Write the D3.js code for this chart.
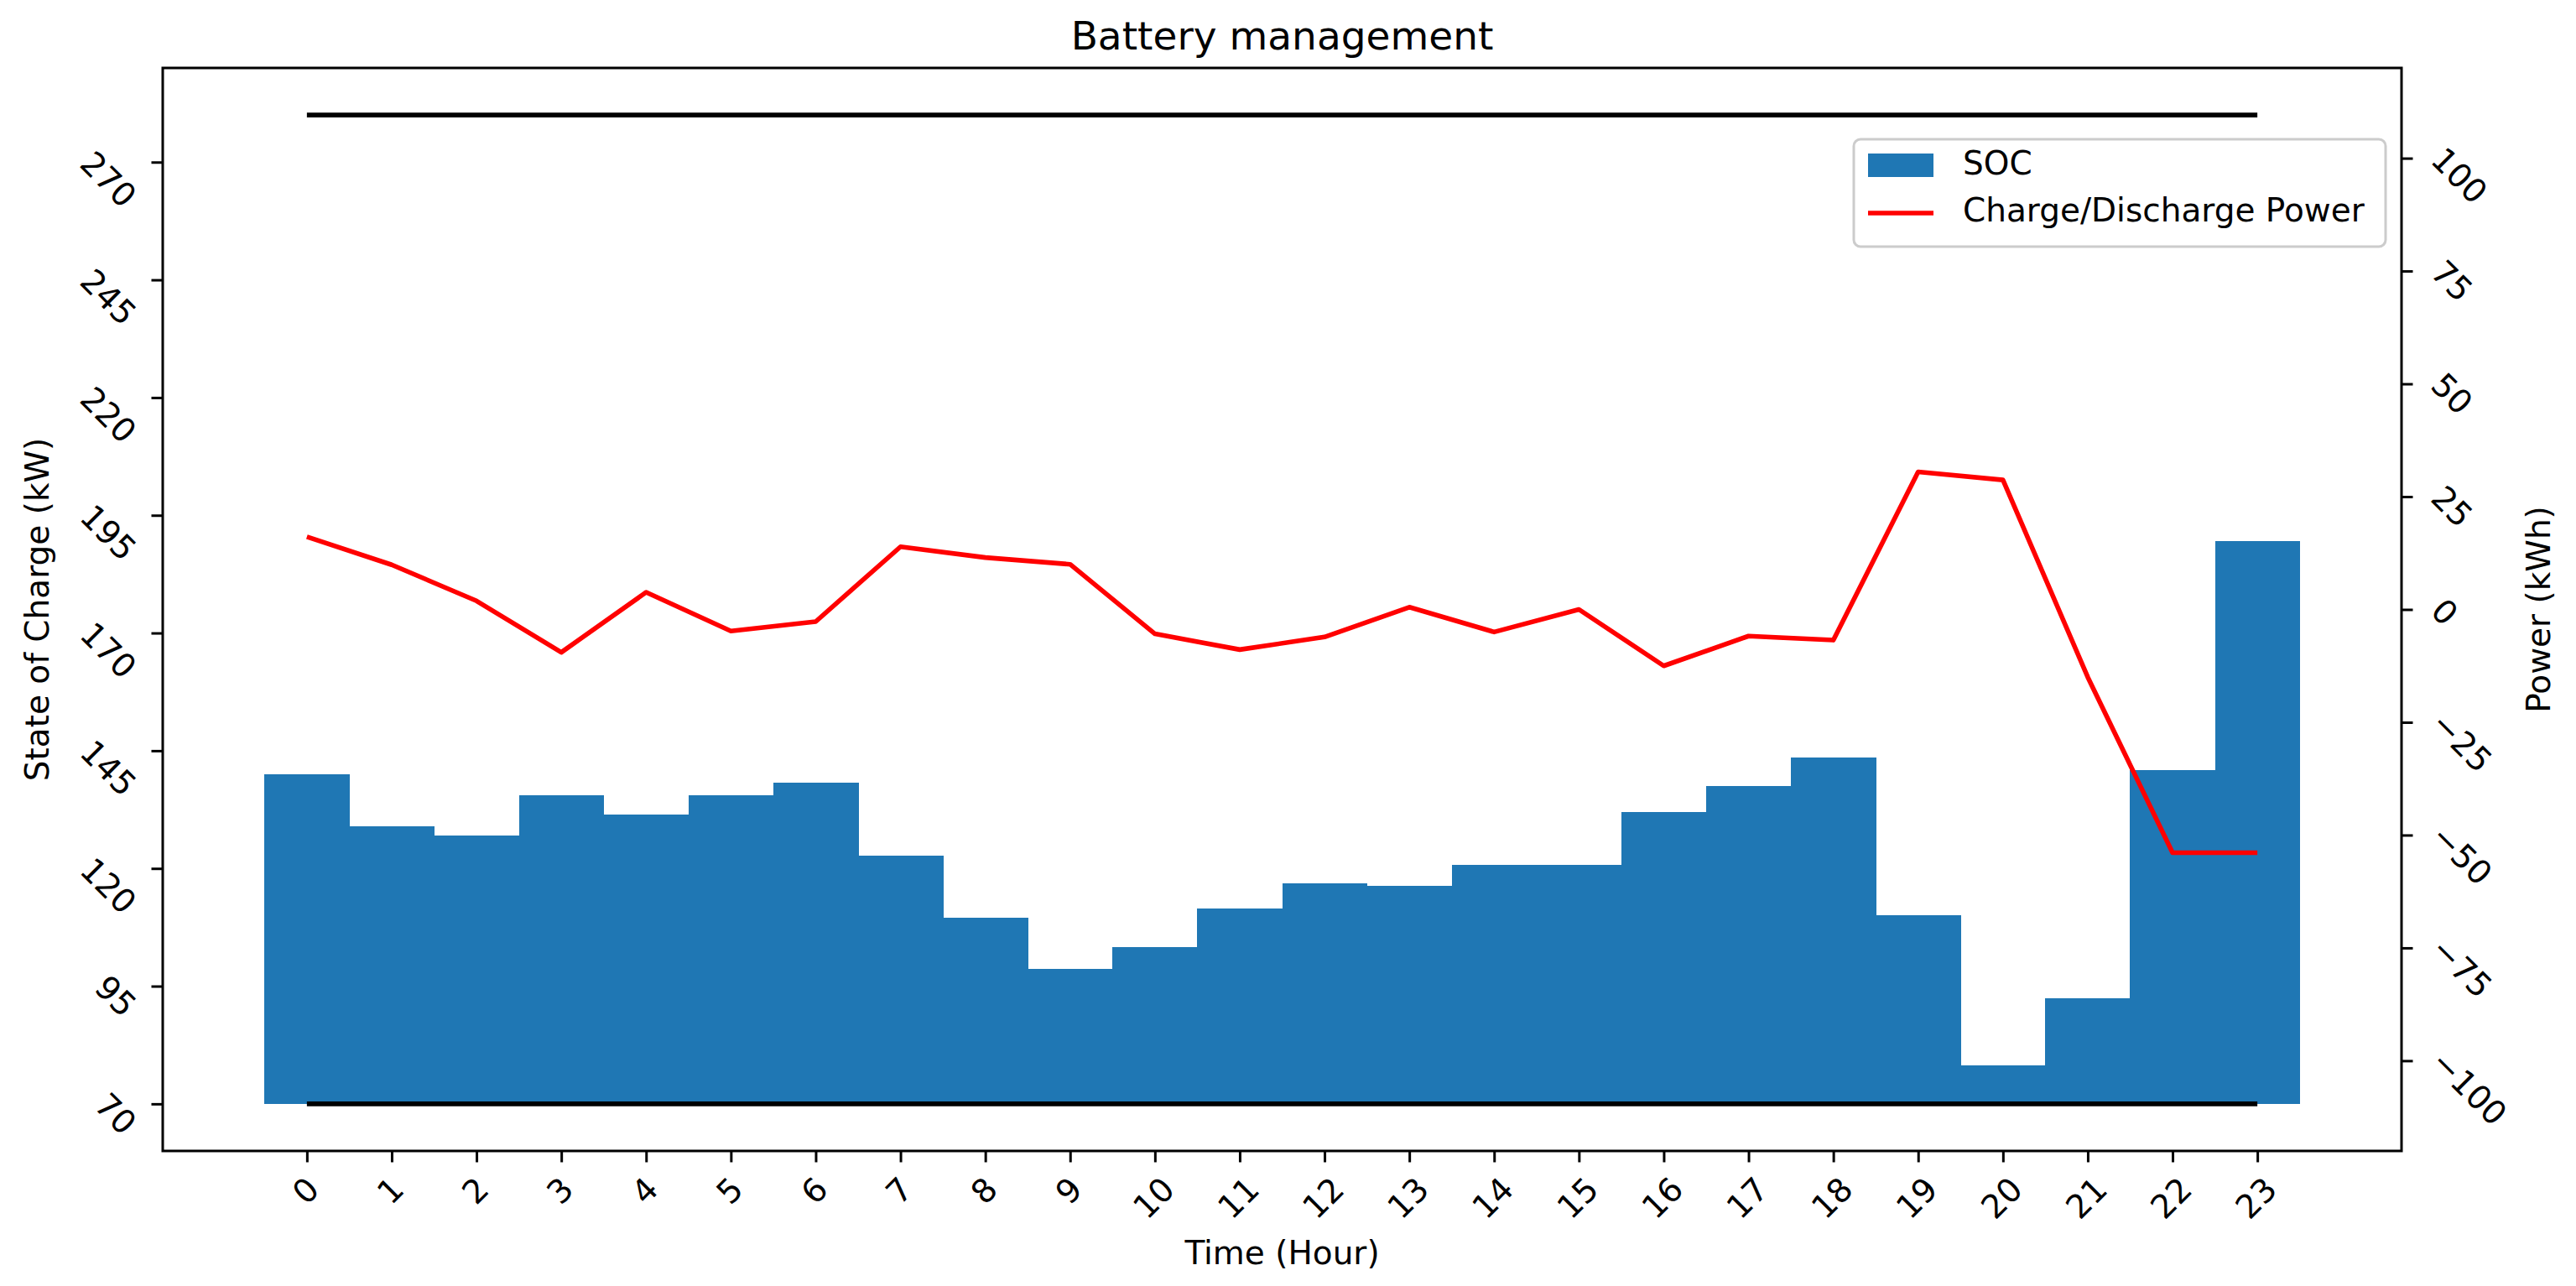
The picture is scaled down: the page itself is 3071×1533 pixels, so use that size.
<!DOCTYPE html>
<html>
<head>
<meta charset="utf-8">
<script src="https://cdn.jsdelivr.net/npm/d3@7"></script>
<style>
  html, body { margin: 0; padding: 0; background: #fff; }
  svg { display: block; font-family: "DejaVu Sans", sans-serif; }
</style>
</head>
<body>
<svg id="chart" width="3071" height="1533"></svg>
<script>
// ---- data ----
const hours = [0,1,2,3,4,5,6,7,8,9,10,11,12,13,14,15,16,17,18,19,20,21,22,23];
const soc = [140.0, 128.9, 126.9, 135.6, 131.4, 135.6, 138.2, 122.7, 109.6, 98.6, 103.3, 111.5,
             116.8, 116.3, 120.8, 120.8, 132.0, 137.5, 143.6, 110.0, 78.2, 92.5, 140.9, 189.5];
const power = [16.1, 9.9, 1.9, -9.5, 3.8, -4.8, -2.7, 13.9, 11.5, 10.0, -5.4, -8.9,
               -6.1, 0.5, -5.0, 0.0, -12.5, -5.9, -6.8, 30.5, 28.7, -15.0, -53.9, -53.9];
const socBase = 70;
const socLimits = [70, 280];
const leftTicks = [70, 95, 120, 145, 170, 195, 220, 245, 270];
const rightTicks = [-100, -75, -50, -25, 0, 25, 50, 75, 100];
const seriesNames = ["SOC", "Charge/Discharge Power"];

// ---- layout ----
const L = 194, R = 2863, T = 81, B = 1372;
const FS = 39, TITLE_FS = 47;
const tickLen = 13.5, tickPad = 13.7;
const ASC = 0.76 * FS, DESC = 0.21 * FS;
const BLUE = "#1f77b4", RED = "#ff0000";
const S2 = Math.SQRT1_2;

const svg = d3.select("#chart");
const x = d3.scaleLinear().domain([-1.7, 24.7]).range([L, R]);
const yL = d3.scaleLinear().domain([60, 290]).range([B, T]);
const yR = d3.scaleLinear().domain([-120, 120]).range([B, T]);
const fmt = d => String(d).replace("-", "\u2212");

// bars
svg.append("g").attr("shape-rendering", "crispEdges")
  .selectAll("rect").data(hours).join("rect")
  .attr("x", (d) => x(d - 0.5))
  .attr("width", (d) => x(d + 0.5) - x(d - 0.5) + 0.6)
  .attr("y", (d, i) => yL(soc[i]))
  .attr("height", (d, i) => yL(socBase) - yL(soc[i]))
  .attr("fill", BLUE);

// limit lines
svg.append("g").selectAll("line").data(socLimits).join("line")
  .attr("x1", x(hours[0])).attr("x2", x(hours[hours.length - 1]))
  .attr("y1", d => yL(d)).attr("y2", d => yL(d))
  .attr("stroke", "#000").attr("stroke-width", 5.8);

// power line
svg.append("path")
  .datum(hours)
  .attr("fill", "none").attr("stroke", RED).attr("stroke-width", 5.6)
  .attr("stroke-linejoin", "round")
  .attr("d", d3.line().x(d => x(d)).y((d, i) => yR(power[i])));

// axes
function styleAxis(g) {
  g.select(".domain").remove();
  g.selectAll(".tick line").attr("stroke", "#000").attr("stroke-width", 3);
  g.selectAll(".tick text").attr("font-size", FS).attr("fill", "#000")
    .attr("font-family", "DejaVu Sans, sans-serif");
}

const gx = svg.append("g").attr("transform", `translate(0,${B})`)
  .call(d3.axisBottom(x).tickValues(hours).tickFormat(d => String(d)).tickSize(tickLen).tickSizeOuter(0));
styleAxis(gx);
gx.selectAll(".tick text").each(function() {
  const w = this.getComputedTextLength();
  const side = (w + ASC + DESC) * S2;
  const cy = tickLen + tickPad + side / 2;
  d3.select(this).attr("x", 0).attr("dy", null).attr("y", (ASC - DESC) / 2)
    .attr("text-anchor", "middle")
    .attr("transform", `translate(0,${cy}) rotate(-45)`);
});

const gl = svg.append("g").attr("transform", `translate(${L},0)`)
  .call(d3.axisLeft(yL).tickValues(leftTicks).tickFormat(fmt).tickSize(tickLen).tickSizeOuter(0));
styleAxis(gl);
gl.selectAll(".tick text").each(function() {
  const w = this.getComputedTextLength();
  const ox = -(tickLen + tickPad) - S2 * (w + ASC);
  d3.select(this).attr("x", 0).attr("dy", null).attr("y", 0).attr("text-anchor", "start")
    .attr("transform", `translate(${ox},3.5) rotate(45)`);
});

const gr = svg.append("g").attr("transform", `translate(${R},0)`)
  .call(d3.axisRight(yR).tickValues(rightTicks).tickFormat(fmt).tickSize(tickLen).tickSizeOuter(0));
styleAxis(gr);
gr.selectAll(".tick text").each(function() {
  const ox = tickLen + tickPad + S2 * DESC;
  d3.select(this).attr("x", 0).attr("dy", null).attr("y", 0).attr("text-anchor", "start")
    .attr("transform", `translate(${ox},3.5) rotate(45)`);
});

// frame
svg.append("rect").attr("x", L).attr("y", T).attr("width", R - L).attr("height", B - T)
  .attr("fill", "none").attr("stroke", "#000").attr("stroke-width", 3);

// title and labels
svg.append("text").attr("x", (L + R) / 2).attr("y", 59).attr("text-anchor", "middle")
  .attr("font-size", TITLE_FS).text("Battery management");
svg.append("text").attr("x", (L + R) / 2).attr("y", 1507).attr("text-anchor", "middle")
  .attr("font-size", FS).text("Time (Hour)");
svg.append("text").attr("transform", `translate(58,${(T + B) / 2}) rotate(-90)`)
  .attr("text-anchor", "middle").attr("font-size", FS).text("State of Charge (kW)");
svg.append("text").attr("transform", `translate(3040,${(T + B) / 2}) rotate(-90)`)
  .attr("text-anchor", "middle").attr("font-size", FS).text("Power (kWh)");

// legend
const lg = svg.append("g");
lg.append("rect").attr("x", 2210).attr("y", 166).attr("width", 634).attr("height", 128)
  .attr("rx", 8).attr("fill", "#fff").attr("fill-opacity", 0.8)
  .attr("stroke", "#cccccc").attr("stroke-width", 3);
lg.append("rect").attr("x", 2227).attr("y", 183).attr("width", 78).attr("height", 28).attr("fill", BLUE);
lg.append("line").attr("x1", 2227).attr("x2", 2305).attr("y1", 254).attr("y2", 254)
  .attr("stroke", RED).attr("stroke-width", 5.6);
lg.append("text").attr("x", 2340).attr("y", 197 + (ASC - DESC) / 2).attr("font-size", FS).text(seriesNames[0]);
lg.append("text").attr("x", 2340).attr("y", 253 + (ASC - DESC) / 2).attr("font-size", FS).text(seriesNames[1]);
</script>
</body>
</html>
